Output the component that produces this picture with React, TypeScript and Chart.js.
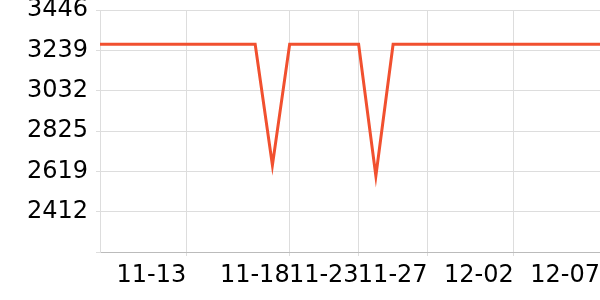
import React, { useEffect, useRef } from "react";
import { Chart, registerables } from "chart.js";

Chart.register(...registerables);

const categories: string[] = [
  "11-08", "11-09", "11-10", "11-11", "11-12", "11-13", "11-14", "11-15",
  "11-16", "11-16", "11-17", "11-18", "11-19", "11-20", "11-22", "11-23",
  "11-24", "11-25", "11-26", "11-27", "11-28", "11-29", "11-30", "12-01",
  "12-02", "12-03", "12-04", "12-05", "12-06", "12-07",
];

const seriesValues: number[] = [
  3270, 3270, 3270, 3270, 3270, 3270, 3270, 3270, 3270, 3270,
  2650, 3270, 3270, 3270, 3270, 3270, 2595, 3270, 3270, 3270,
  3270, 3270, 3270, 3270, 3270, 3270, 3270, 3270, 3270, 3270,
];

const xTickIndices: number[] = [5, 11, 15, 19, 24, 29];
const yTickLabels: string[] = ["3446", "3239", "3032", "2825", "2619", "2412", ""];
const yMax = 3446;
const yMin = 2205.2;

export default function App() {
  const ref = useRef<HTMLCanvasElement | null>(null);

  useEffect(() => {
    document.body.style.margin = "0";
    if (!ref.current) return;
    const font = { family: "DejaVu Sans", size: 24 };
    const chart = new Chart(ref.current, {
      type: "line",
      data: {
        labels: categories,
        datasets: [
          {
            data: seriesValues,
            borderColor: "#f1502f",
            backgroundColor: "#f1502f",
            borderWidth: 3,
            pointRadius: 0,
            tension: 0,
            fill: false,
          },
        ],
      },
      options: {
        animation: false,
        responsive: false,
        maintainAspectRatio: false,
        plugins: { legend: { display: false }, tooltip: { enabled: false } },
        layout: { padding: 0 },
        scales: {
          x: {
            type: "category",
            offset: false,
            grid: { color: "#dddddd", tickLength: 4 },
            border: { color: "#bbbbbb" },
            ticks: {
              autoSkip: false,
              maxRotation: 0,
              minRotation: 0,
              align: "end",
              padding: 5,
              color: "#000",
              font,
            },
            afterBuildTicks: (scale: any) => {
              scale.ticks = xTickIndices.map((v) => ({ value: v }));
            },
            afterFit: (scale: any) => {
              scale.height = 48;
              scale.paddingLeft = 0;
              scale.paddingRight = 0;
            },
          },
          y: {
            min: yMin,
            max: yMax,
            grid: { color: "#dddddd", tickLength: 4 },
            border: { color: "#dddddd" },
            ticks: {
              padding: 8,
              color: "#000",
              font,
              callback: (_v: any, i: number, ticks: any[]) =>
                yTickLabels[ticks.length - 1 - i],
            },
            afterBuildTicks: (scale: any) => {
              const n = yTickLabels.length - 1;
              scale.ticks = yTickLabels.map((_, i) => ({
                value: yMin + ((yMax - yMin) * i) / n,
              }));
            },
            afterFit: (scale: any) => {
              scale.width = 100;
              scale.paddingTop = 10;
              scale.paddingBottom = 0;
            },
          },
        },
      },
    });
    return () => chart.destroy();
  }, []);

  return (
    <div style={{ width: 600, height: 300, position: "relative" }}>
      <canvas ref={ref} width={600} height={300} style={{ display: "block" }} />
    </div>
  );
}
